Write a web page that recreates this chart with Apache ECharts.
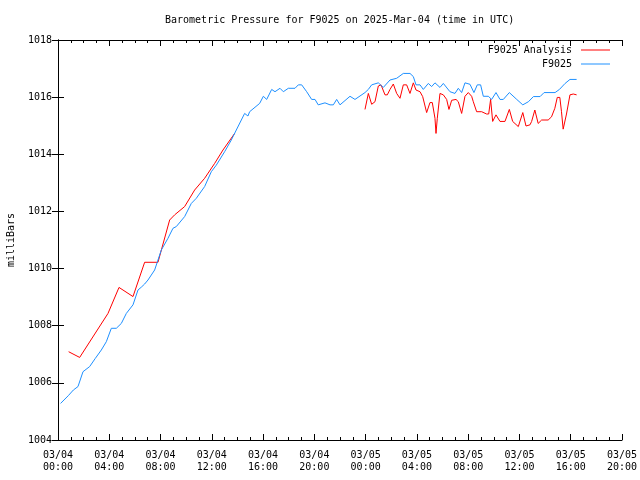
<!DOCTYPE html>
<html>
<head>
<meta charset="utf-8">
<script src="https://cdn.jsdelivr.net/npm/echarts@6/dist/echarts.min.js"></script>
<style>html,body{margin:0;padding:0;background:#fff}#c{width:640px;height:480px}</style>
</head>
<body>
<div id="c"></div>
<script>
// hours since 2025-03-04 00:00 UTC
const analysisHours = [0.83,1.69,3.9,4.76,5.85,6.76,7.8,8.71,9.1,9.88,10.66,11.44,12.22,12.87,13.78,
  19,
  23.95,24.21,24.47,24.73,24.99,25.2,25.51,25.69,25.9,26.16,26.42,26.68,26.94,27.2,27.46,27.72,27.93,28.24,28.45,28.76,29.02,29.2,29.41,29.49,29.59,29.8,30.06,30.32,30.5,30.71,31.05,31.23,31.49,31.75,32.01,32.27,32.4,32.66,33.05,33.44,33.6,33.75,33.91,34.17,34.48,34.87,35.21,35.47,35.91,36.26,36.51,36.82,36.95,37.2,37.46,37.73,38.24,38.5,38.76,38.95,39.15,39.28,39.41,39.67,39.94,40.2,40.46];
const analysisPressure = [1007.09,1006.89,1008.43,1009.34,1009.02,1010.22,1010.22,1011.7,1011.88,1012.17,1012.75,1013.16,1013.68,1014.15,1014.73,
  '-',
  1015.57,1016.13,1015.75,1015.84,1016.39,1016.43,1016.08,1016.08,1016.27,1016.46,1016.13,1015.96,1016.43,1016.43,1016.13,1016.5,1016.25,1016.19,1016.02,1015.46,1015.81,1015.81,1015.26,1014.73,1015.26,1016.13,1016.08,1015.92,1015.57,1015.89,1015.92,1015.84,1015.43,1016.03,1016.16,1016.03,1015.84,1015.49,1015.49,1015.41,1015.41,1015.92,1015.15,1015.38,1015.15,1015.15,1015.57,1015.15,1014.97,1015.46,1014.99,1015.03,1015.15,1015.55,1015.08,1015.2,1015.2,1015.31,1015.61,1015.99,1015.99,1015.49,1014.88,1015.41,1016.08,1016.11,1016.08];

const stationHours = [0.2,0.8,1.2,1.56,1.95,2.47,2.9,3.38,3.77,4.16,4.55,4.94,5.33,5.85,6.24,6.5,6.76,7.02,7.54,8.06,8.58,8.97,9.23,9.88,10.4,10.79,11.44,11.96,12.35,13.0,13.52,13.91,14.56,14.82,14.95,15.73,16.02,16.28,16.67,16.93,17.32,17.58,17.97,18.49,18.75,19.01,19.4,19.79,20.05,20.3,20.83,21.22,21.48,21.74,22.0,22.78,23.17,23.95,24.21,24.47,24.99,25.38,25.9,26.42,26.94,27.46,27.72,27.93,28.24,28.5,28.89,29.15,29.41,29.8,30.06,30.58,30.97,31.23,31.49,31.75,32.14,32.45,32.71,32.97,33.18,33.57,33.83,34.17,34.48,34.74,35.21,35.79,36.26,36.7,37.09,37.61,37.92,38.78,39.12,39.56,39.94,40.46];
const stationPressure = [1005.28,1005.55,1005.75,1005.87,1006.39,1006.57,1006.85,1007.15,1007.44,1007.91,1007.91,1008.08,1008.43,1008.73,1009.25,1009.35,1009.46,1009.6,1009.95,1010.65,1011.06,1011.41,1011.47,1011.82,1012.28,1012.46,1012.87,1013.39,1013.62,1014.09,1014.5,1014.85,1015.43,1015.34,1015.49,1015.78,1016.03,1015.92,1016.27,1016.19,1016.31,1016.19,1016.31,1016.31,1016.43,1016.43,1016.19,1015.92,1015.92,1015.73,1015.8,1015.73,1015.73,1015.92,1015.73,1016.03,1015.92,1016.16,1016.27,1016.43,1016.5,1016.34,1016.6,1016.66,1016.83,1016.83,1016.72,1016.43,1016.43,1016.27,1016.48,1016.37,1016.5,1016.34,1016.48,1016.19,1016.13,1016.31,1016.16,1016.5,1016.45,1016.16,1016.43,1016.43,1016.03,1016.03,1015.92,1016.16,1015.92,1015.92,1016.16,1015.92,1015.73,1015.84,1016.02,1016.02,1016.16,1016.16,1016.27,1016.48,1016.62,1016.62];

const seriesNames = ['F9025 Analysis', 'F9025'];
const titleText = 'Barometric Pressure for F9025 on 2025-Mar-04 (time in UTC)';
const yLabel = 'milliBars';

const zip = (a, b) => a.map((x, i) => [x, b[i]]);
const FONT = 'DejaVu Sans Mono';
const fmtX = v => {
  const day = 4 + Math.floor(v / 24);
  const hh = v % 24;
  return '03/0' + day + '\n' + String(hh).padStart(2, '0') + ':00';
};
const tickCommon = {
  axisLine: { show: true, lineStyle: { color: '#000', width: 1 } },
  axisTick: { show: true, inside: true, length: 6, lineStyle: { color: '#000' } },
  splitLine: { show: false }
};

const chart = echarts.init(document.getElementById('c'), null, { renderer: 'canvas' });
chart.setOption({
  animation: false,
  backgroundColor: '#fff',
  title: {
    text: titleText, left: 160, top: 10,
    textStyle: { fontFamily: FONT, fontSize: 10, fontWeight: 'normal', color: '#000' }
  },
  legend: {
    data: seriesNames, orient: 'vertical', right: 30, top: 44, align: 'right', padding: 0,
    icon: 'rect', itemWidth: 29, itemHeight: 1, itemGap: 2,
    textStyle: { fontFamily: FONT, fontSize: 10, color: '#000', lineHeight: 12, padding: [0, 4, 0, 0] }
  },
  grid: { left: 58, right: 18, top: 40, bottom: 40, containLabel: false, outerBoundsMode: 'none' },
  xAxis: [
    Object.assign({
      type: 'value', min: 0, max: 44, interval: 4, position: 'bottom',
      minorTick: { show: true, splitNumber: 4, length: 3, lineStyle: { color: '#000' } },
      axisLabel: { formatter: fmtX, fontFamily: FONT, fontSize: 10, color: '#000', lineHeight: 12, margin: 9 }
    }, tickCommon),
    Object.assign({
      type: 'value', min: 0, max: 44, interval: 4, position: 'top',
      minorTick: { show: true, splitNumber: 4, length: 3, lineStyle: { color: '#000' } },
      axisLabel: { show: false }
    }, tickCommon)
  ],
  yAxis: [
    Object.assign({
      type: 'value', min: 1004, max: 1018, interval: 2, position: 'left',
      name: yLabel, nameLocation: 'middle', nameGap: 42, nameRotate: 90,
      nameTextStyle: { fontFamily: FONT, fontSize: 10, color: '#000' },
      axisLabel: { formatter: v => String(v), fontFamily: FONT, fontSize: 10, color: '#000', margin: 6 }
    }, tickCommon),
    Object.assign({
      type: 'value', min: 1004, max: 1018, interval: 2, position: 'right',
      axisLabel: { show: false }
    }, tickCommon)
  ],
  series: [
    {
      name: seriesNames[0], type: 'line', data: zip(analysisHours, analysisPressure),
      symbol: 'none', connectNulls: false, color: '#ff0000',
      lineStyle: { width: 1, color: '#ff0000' }
    },
    {
      name: seriesNames[1], type: 'line', data: zip(stationHours, stationPressure),
      symbol: 'none', color: '#1e90ff',
      lineStyle: { width: 1, color: '#1e90ff' }
    }
  ]
});
</script>
</body>
</html>
